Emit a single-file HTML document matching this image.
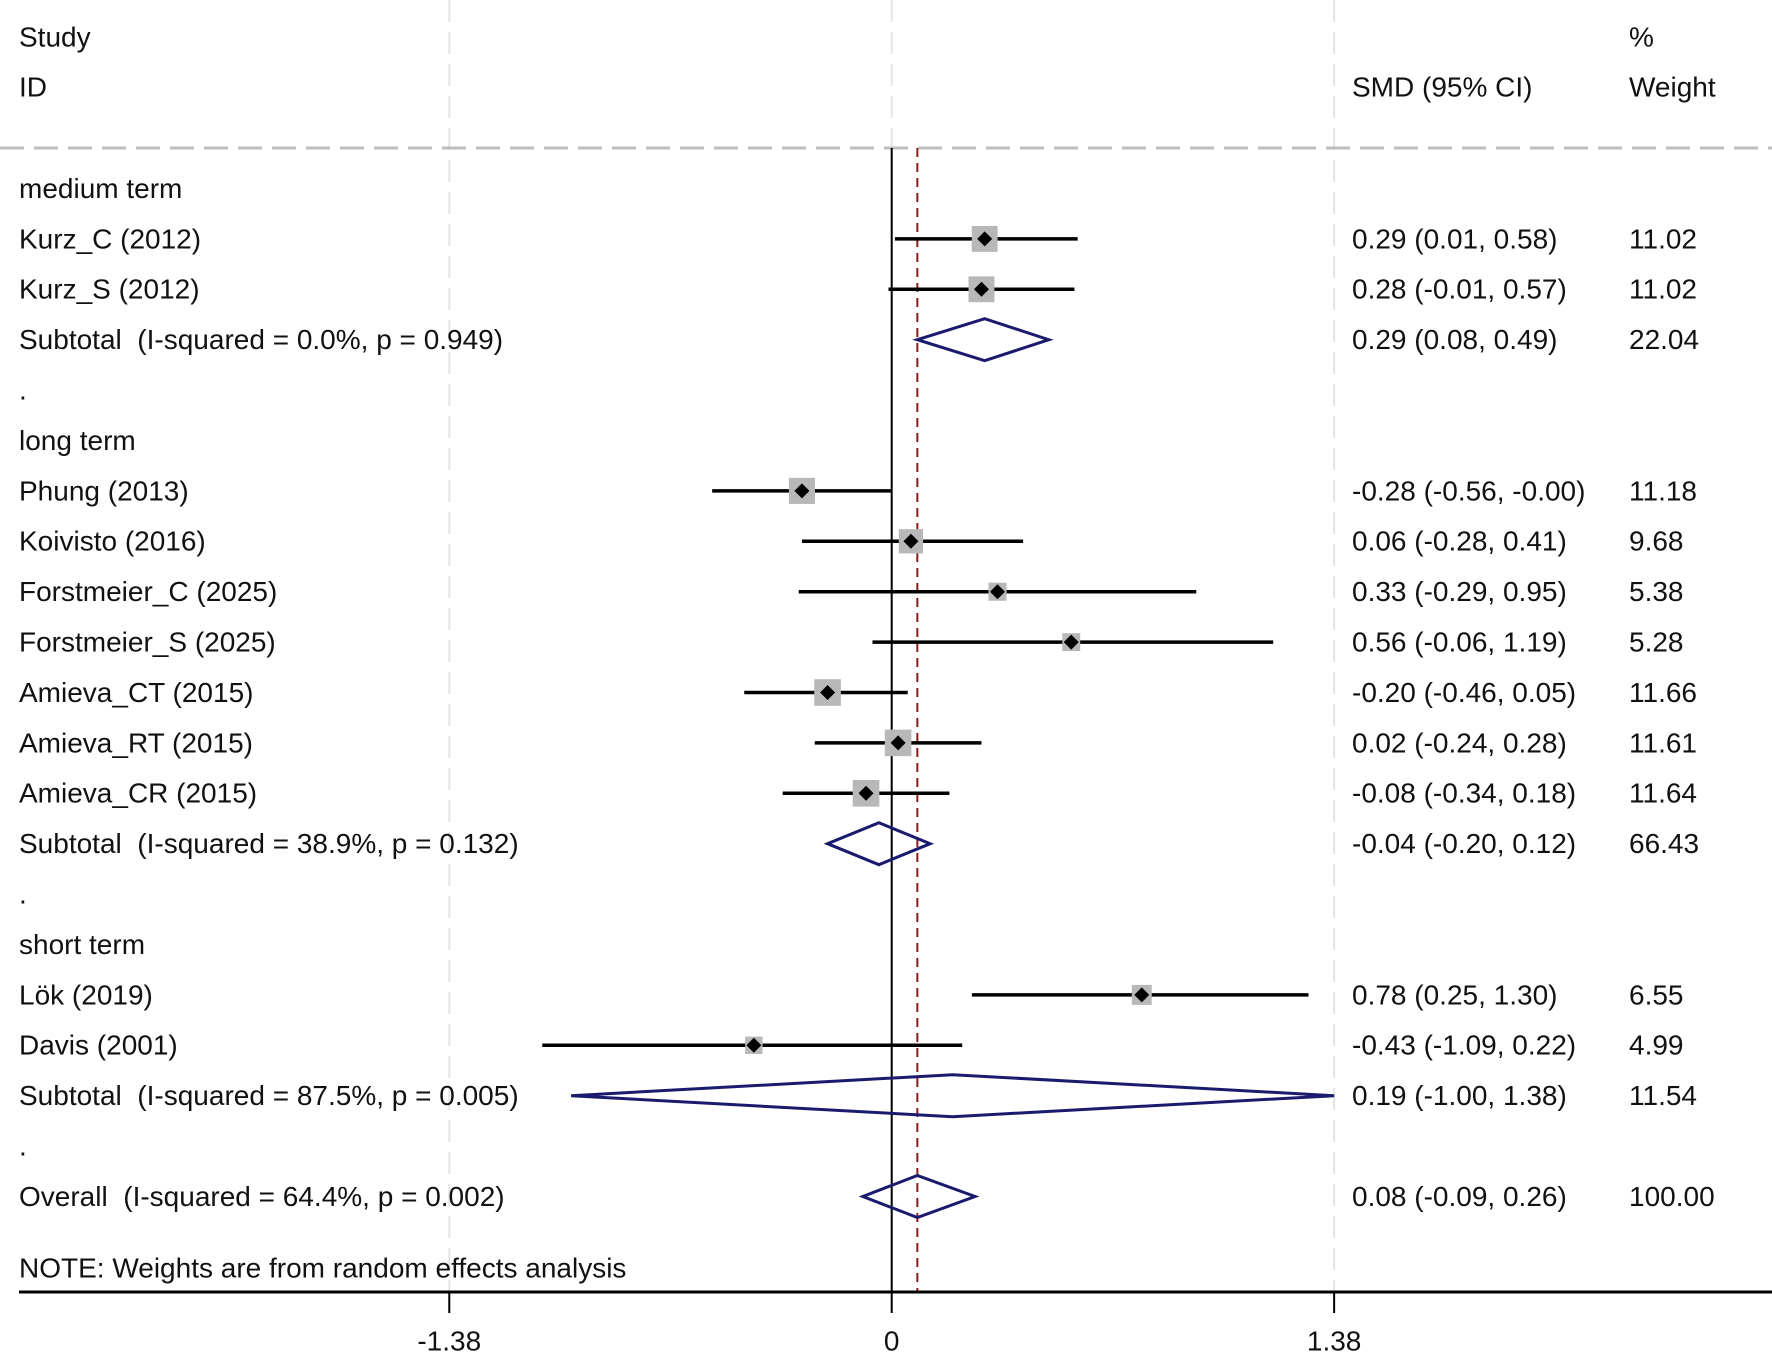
<!DOCTYPE html>
<html><head><meta charset="utf-8"><style>
html,body{margin:0;padding:0;background:#fff;}
svg{display:block;font-family:"Liberation Sans",Arial,sans-serif;}
text{white-space:pre;}
</style></head><body>
<svg id="chart" width="1772" height="1353" viewBox="0 0 1772 1353" xmlns="http://www.w3.org/2000/svg"></svg>
<script>
const rowLabels = ["medium term","Kurz_C (2012)","Kurz_S (2012)","Subtotal  (I-squared = 0.0%, p = 0.949)",".","long term","Phung (2013)","Koivisto (2016)","Forstmeier_C (2025)","Forstmeier_S (2025)","Amieva_CT (2015)","Amieva_RT (2015)","Amieva_CR (2015)","Subtotal  (I-squared = 38.9%, p = 0.132)",".","short term","Lök (2019)","Davis (2001)","Subtotal  (I-squared = 87.5%, p = 0.005)",".","Overall  (I-squared = 64.4%, p = 0.002)"];
const rowTypes = ["h","s","s","d","b","h","s","s","s","s","s","s","s","d","b","h","s","s","d","b","d"];
const estimates = [null,0.29,0.28,0.29,null,null,-0.28,0.06,0.33,0.56,-0.20,0.02,-0.08,-0.04,null,null,0.78,-0.43,0.19,null,0.08];
const lowerCI = [null,0.01,-0.01,0.08,null,null,-0.56,-0.28,-0.29,-0.06,-0.46,-0.24,-0.34,-0.20,null,null,0.25,-1.09,-1.00,null,-0.09];
const upperCI = [null,0.58,0.57,0.49,null,null,-0.00,0.41,0.95,1.19,0.05,0.28,0.18,0.12,null,null,1.30,0.22,1.38,null,0.26];
const ciText = ["","0.29 (0.01, 0.58)","0.28 (-0.01, 0.57)","0.29 (0.08, 0.49)","","","-0.28 (-0.56, -0.00)","0.06 (-0.28, 0.41)","0.33 (-0.29, 0.95)","0.56 (-0.06, 1.19)","-0.20 (-0.46, 0.05)","0.02 (-0.24, 0.28)","-0.08 (-0.34, 0.18)","-0.04 (-0.20, 0.12)","","","0.78 (0.25, 1.30)","-0.43 (-1.09, 0.22)","0.19 (-1.00, 1.38)","","0.08 (-0.09, 0.26)"];
const weights = [null,11.02,11.02,22.04,null,null,11.18,9.68,5.38,5.28,11.66,11.61,11.64,66.43,null,null,6.55,4.99,11.54,null,100.00];
const weightText = ["","11.02","11.02","22.04","","","11.18","9.68","5.38","5.28","11.66","11.61","11.64","66.43","","","6.55","4.99","11.54","","100.00"];
const tickValues = [-1.38,0,1.38];
const tickLabels = ["-1.38","0","1.38"];
const overallEffect = 0.08;

const NS="http://www.w3.org/2000/svg";
const svg=document.getElementById('chart');
const X0=891.7, PX=320.6;
const xs=v=>X0+v*PX;
const ys=i=>190.5+i*50.4;
function mk(tag,attrs,parent){const e=document.createElementNS(NS,tag);for(const k in attrs)e.setAttribute(k,attrs[k]);(parent||svg).appendChild(e);return e;}
function txt(x,y,s,extra){const t=mk('text',Object.assign({x:x,y:y,'font-size':28,fill:'#111','dominant-baseline':'middle'},extra||{}));t.textContent=s;return t;}

tickValues.forEach((v,i)=>{
  const g=mk('line',{x1:xs(v),x2:xs(v),y1:0,y2:v===0?148:1291,stroke:'#e4e4e4','stroke-width':2,'stroke-dasharray':'22 10'});
  
  
});
let hl=mk('line',{x1:0,x2:1772,y1:148,y2:148,stroke:'#bdbdbd','stroke-width':3,'stroke-dasharray':'24 10'});


let zl=mk('line',{x1:xs(0),x2:xs(0),y1:148,y2:1291,stroke:'#000','stroke-width':2});


let ol=mk('line',{x1:xs(overallEffect),x2:xs(overallEffect),y1:148,y2:1291,stroke:'#8b1a1a','stroke-width':2,'stroke-dasharray':'9 6'});



[[19,39,'Study'],[19,89,'ID'],[1352,89,'SMD (95% CI)'],[1629,39,'%'],[1629,89,'Weight']].forEach(h=>{
  const t=txt(h[0],h[1],h[2]);
  
  
});

rowLabels.forEach((lab,i)=>{
  const y=ys(i);
  const ym=y-2;
  const t=txt(19,y,lab);
  
  
  if(rowTypes[i]==='s'){
    const l=mk('line',{x1:xs(lowerCI[i]),x2:xs(upperCI[i]),y1:ym,y2:ym,stroke:'#000','stroke-width':3.5});
    
    
    const s=7.8*Math.sqrt(weights[i]);
    const b=mk('rect',{x:xs(estimates[i])-s/2,y:ym-s/2,width:s,height:s,fill:'#b8b8b8'});
    
    
    const d=7.5, cx=xs(estimates[i]);
    const p=mk('polygon',{points:`${cx},${ym-d} ${cx+d},${ym} ${cx},${ym+d} ${cx-d},${ym}`,fill:'#000'});
    
    
  } else if(rowTypes[i]==='d'){
    const h=21;
    const p=mk('polygon',{points:`${xs(lowerCI[i])},${ym} ${xs(estimates[i])},${ym-h} ${xs(upperCI[i])},${ym} ${xs(estimates[i])},${ym+h}`,fill:'none',stroke:'#1a1a6e','stroke-width':3});
    
    
  }
  if(ciText[i]){
    const c=txt(1352,y,ciText[i]);
    
    
    const w=txt(1629,y,weightText[i]);
    
    
  }
});
let note=txt(19,1270,'NOTE: Weights are from random effects analysis');



let ax=mk('line',{x1:19,x2:1772,y1:1292,y2:1292,stroke:'#000','stroke-width':3});


tickValues.forEach((v,i)=>{
  const tk=mk('line',{x1:xs(v),x2:xs(v),y1:1292,y2:1313,stroke:'#000','stroke-width':2});
  
  
  const tl=txt(xs(v),1343,tickLabels[i],{'text-anchor':'middle'});
  
  
});
</script>
</body></html>
